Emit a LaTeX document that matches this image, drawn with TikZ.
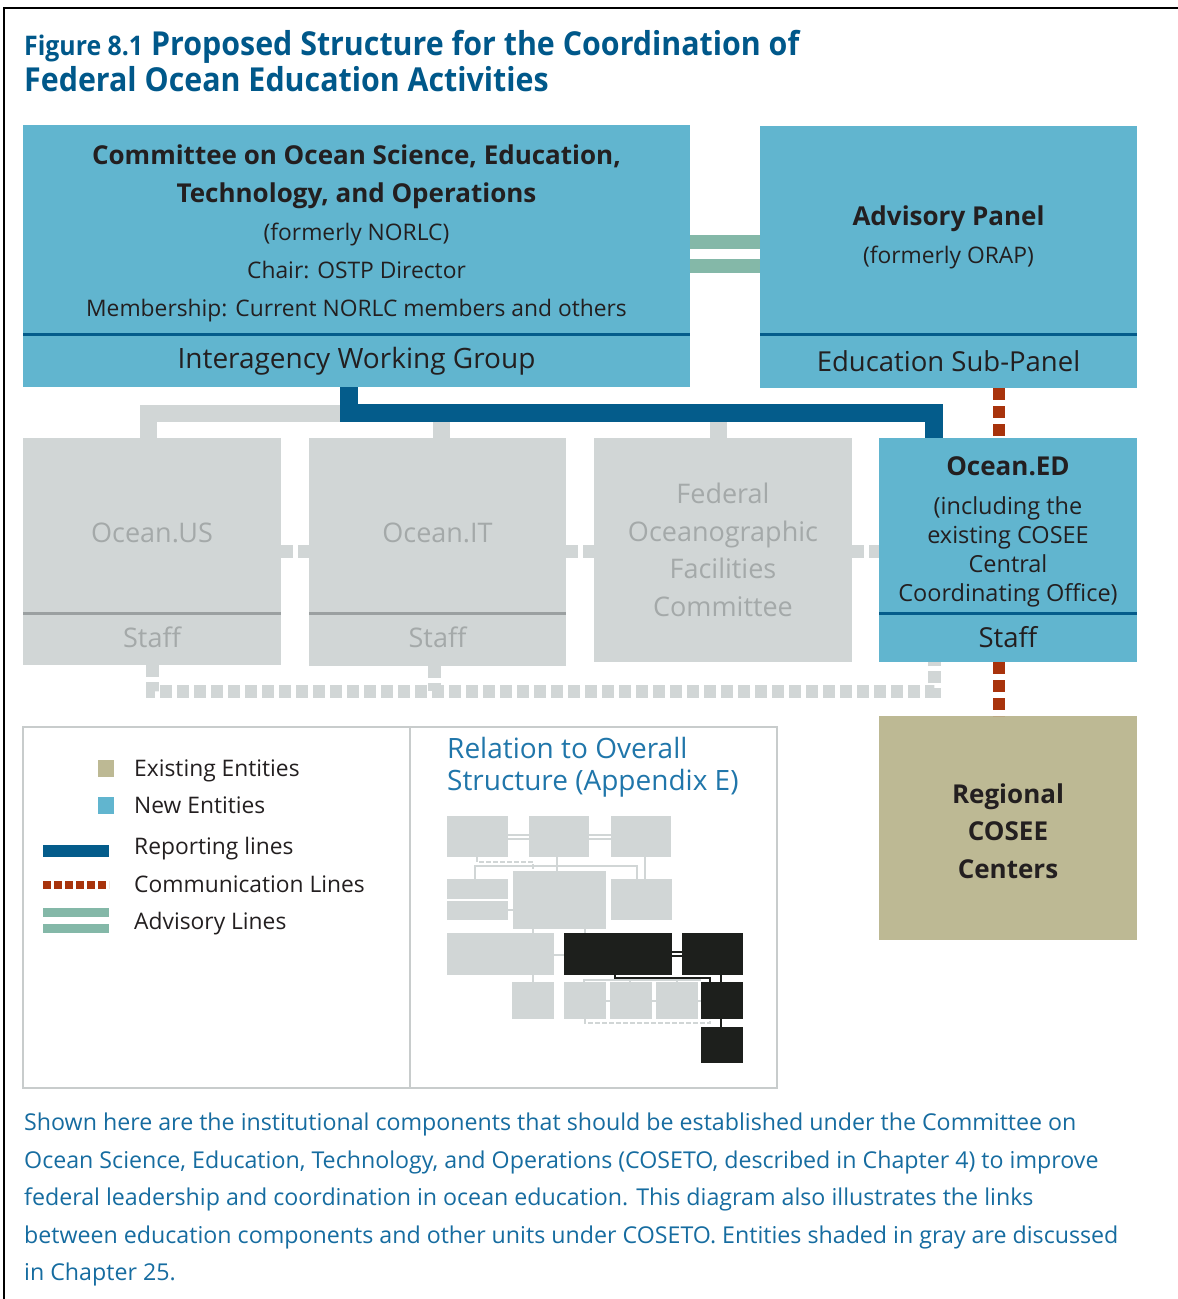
\documentclass[tikz,border=0pt]{standalone}
\usepackage{fontspec}
\setmainfont{Open Sans}
\newfontfamily\titlefont[FakeStretch=0.92]{Open Sans}
\usetikzlibrary{positioning}

\definecolor{newblue}{RGB}{97,181,207}
\definecolor{repblue}{RGB}{4,92,139}
\definecolor{greyfill}{RGB}{209,214,214}
\definecolor{greyink}{RGB}{164,169,169}
\definecolor{greydiv}{RGB}{155,160,161}
\definecolor{khaki}{RGB}{189,185,148}
\definecolor{commred}{RGB}{168,51,12}
\definecolor{advgreen}{RGB}{132,184,168}
\definecolor{titleblue}{RGB}{0,88,138}
\definecolor{capblue}{RGB}{22,108,160}
\definecolor{relblue}{RGB}{32,118,170}
\definecolor{ink}{RGB}{35,31,32}
\definecolor{miniblack}{RGB}{29,31,28}
\definecolor{frame}{RGB}{200,204,204}

\tikzset{
  entitybox/.style={anchor=north west, inner sep=0pt, outer sep=0pt},
  newbox/.style={entitybox, fill=newblue},
  greybox/.style={entitybox, fill=greyfill},
  oldbox/.style={entitybox, fill=khaki},
  boxtext/.style={align=center, text=ink, inner sep=0pt, font=\fontsize{22.8}{38}\selectfont},
  greytext/.style={boxtext, text=greyink, font=\fontsize{27}{37.5}\selectfont},
  divider/.style={line width=3pt, draw=repblue},
  greydivider/.style={line width=3pt, draw=greydiv},
  repline/.style={draw=repblue, line width=18pt},
  greyline/.style={draw=greyfill, line width=17pt},
  greydash/.style={draw=greyfill, line width=13pt, dash pattern=on 12pt off 5pt},
  commline/.style={draw=commred, line width=12pt, dash pattern=on 12pt off 6pt},
  advline/.style={draw=advgreen, line width=14pt},
  legtext/.style={anchor=base west, inner sep=0pt, text=ink, font=\fontsize{22.8}{26}\selectfont},
  legframe/.style={entitybox, draw=frame, line width=2pt},
  minigrey/.style={fill=greyfill},
  miniblk/.style={fill=miniblack},
  minilink/.style={draw=greyfill, line width=2pt},
  miniblklink/.style={draw=miniblack, line width=2.5pt}
}

\begin{document}
\begin{tikzpicture}[x=1pt, y=-1pt]
\useasboundingbox (0,0) rectangle (1178,1299);
\draw[black, line width=2.5pt] (4,1299) -- (4,8) -- (1178,8);

% title
\node[anchor=base west, inner sep=0pt, text=titleblue] (title) at (24,55)
  {\titlefont\bfseries{\fontsize{27}{30}\selectfont Figure 8.1}\hspace{8pt}{\fontsize{33}{38}\selectfont Proposed Structure for the Coordination of}};
\node[anchor=base west, inner sep=0pt, text=titleblue] (title2) at (24,91)
  {\titlefont\bfseries\fontsize{33}{38}\selectfont Federal Ocean Education Activities};

% top row
\node[newbox, minimum width=667, minimum height=262] (cosot) at (23,125) {};
\draw[divider] (23,334) -- (690,334);
\node[boxtext] (cosotname) at (356.5,233)
  {{\bfseries\fontsize{26}{38}\selectfont Committee on Ocean Science, Education,}\\
   {\bfseries\fontsize{26}{38}\selectfont Technology, and Operations}\\
   (formerly NORLC)\\ Chair: OSTP Director\\ Membership: Current NORLC members and others};
\node[boxtext, font=\fontsize{28}{30}\selectfont] (iwg) at (356.5,361) {Interagency Working Group};

\node[newbox, minimum width=377, minimum height=262] (adv) at (760,126) {};
\draw[divider] (760,334) -- (1137,334);
\node[boxtext] (advname) at (948.5,237)
  {{\bfseries\fontsize{26}{38}\selectfont Advisory Panel}\\ (formerly ORAP)};
\node[boxtext, font=\fontsize{27.5}{30}\selectfont] (esp) at (948.5,361) {Education Sub-Panel};

\draw[advline] (cosot.east |- 0,242) -- (adv.west |- 0,242);
\draw[advline] (cosot.east |- 0,266) -- (adv.west |- 0,266);

% second row
\node[greybox, minimum width=258, minimum height=227] (ocus) at (23,438) {};
\draw[greydivider] (23,613) -- (281,613);
\node[greytext] (ocusname) at (152,533) {Ocean.US};
\node[greytext] (ocusstaff) at (152,637) {Staff};

\node[greybox, minimum width=257, minimum height=228] (ocit) at (309,438) {};
\draw[greydivider] (309,613) -- (566,613);
\node[greytext] (ocitname) at (437.5,533) {Ocean.IT};
\node[greytext] (ocitstaff) at (437.5,637) {Staff};

\node[greybox, minimum width=258, minimum height=224] (fofc) at (594,438) {};
\node[greytext] (fofcname) at (723,550) {Federal\\ Oceanographic\\ Facilities\\ Committee};

\node[newbox, minimum width=258, minimum height=224] (oced) at (879,438) {};
\draw[divider] (879,613) -- (1137,613);
\node[boxtext, font=\fontsize{23.5}{29}\selectfont] (ocedname) at (1008,532)
  {{\bfseries\fontsize{26}{29}\selectfont Ocean.ED}\\[10pt]
   (including the\\ existing COSEE\\ Central\\ Coordinating Office)};
\node[boxtext, font=\fontsize{27.5}{30}\selectfont] (ocedstaff) at (1008,637) {Staff};

\node[oldbox, minimum width=258, minimum height=224] (cosee) at (879,716) {};
\node[boxtext, font=\bfseries\fontsize{26}{37.5}\selectfont] (coseename) at (1008,831)
  {Regional\\ COSEE\\ Centers};

% connectors
\draw[greyline] (ocus.north -| 148.5,0) |- (348.5,413);
\draw[greyline] (ocit.north -| 441.5,0) -- (441.5,413);
\draw[greyline] (fofc.north -| 718.5,0) -- (718.5,413);
\draw[repline] (cosot.south -| 348.5,0) |- (934,413) -- (oced.north -| 934,0);

\draw[greydash] (ocus.east |- 0,551.5) -- (ocit.west |- 0,551.5);
\draw[greydash] (ocit.east |- 0,551.5) -- (fofc.west |- 0,551.5);
\draw[greydash] (fofc.east |- 0,551.5) -- (oced.west |- 0,551.5);
\draw[greydash] (ocus.south -| 152,0) |- (934,691) -- (oced.south -| 934,0);
\draw[greydash] (ocit.south -| 434.5,0) -- (434.5,691);

\draw[commline] (adv.south -| 999,0) -- (oced.north -| 999,0);
\draw[commline] (oced.south -| 999,0) -- (cosee.north -| 999,0);

% legend
\node[legframe, minimum width=387, minimum height=361] (legend) at (23,727) {};
\node[legframe, minimum width=367, minimum height=361] (overall) at (410,727) {};

\fill[khaki] (98,760) rectangle (114,777);
\node[legtext] (legexist) at (134,776) {Existing Entities};
\fill[newblue] (98,797) rectangle (114,814);
\node[legtext] (legnew) at (134,813) {New Entities};
\draw[repblue, line width=12pt] (43,851) -- (109,851);
\node[legtext] (legrep) at (134,854) {Reporting lines};
\draw[commred, line width=8pt, dash pattern=on 8pt off 3pt] (43,884.5) -- (109,884.5);
\node[legtext] (legcomm) at (134,892) {Communication Lines};
\draw[advgreen, line width=9pt] (43,912.5) -- (109,912.5);
\draw[advgreen, line width=9pt] (43,928.5) -- (109,928.5);
\node[legtext] (legadv) at (134,929) {Advisory Lines};

\node[anchor=north west, inner sep=0pt, align=left, text=relblue,
  font=\fontsize{28}{32}\selectfont] (reltitle) at (447,737)
  {Relation to Overall\\ Structure (Appendix E)};

% overall structure thumbnail
\draw[minilink] (508,835) -- (529,835) (508,839) -- (529,839);
\draw[minilink] (589,835) -- (611,835) (589,839) -- (611,839);
\draw[minilink] (557,857) -- (557,871);
\draw[minilink] (475,879) |- (637,866) -- (637,879);
\draw[minilink] (645,857) -- (645,879);
\draw[minilink, dash pattern=on 5pt off 2pt] (477,857) |- (533,862) -- (533,871);
\draw[minilink] (508,910) -- (513,910);
\draw[minilink] (533,929) -- (533,933) (585,929) -- (585,933);
\draw[minilink] (554,955) -- (564,955);
\draw[minilink] (584,982) |- (701,980) (630,980) -- (630,982) (677,980) -- (677,982);
\draw[minilink] (533,975) -- (533,982);
\draw[minilink] (606,1001) -- (610,1001) (652,1001) -- (656,1001) (698,1001) -- (701,1001);
\draw[minilink, dash pattern=on 5pt off 2pt] (585,1019) |- (710,1023) -- (710,1019);
\foreach \xa/\ya/\xb/\yb in {447/816/508/857, 529/816/589/857, 611/816/671/857,
    447/879/508/899, 447/901/508/920, 513/871/606/929, 611/879/672/920,
    447/933/554/975, 512/982/554/1019, 564/982/606/1019, 610/982/652/1019,
    656/982/698/1019}
  \fill[minigrey] (\xa,\ya) rectangle (\xb,\yb);
\draw[miniblklink] (672,952) -- (682,952) (672,956) -- (682,956);
\draw[miniblklink] (615,975) |- (710,978) -- (710,982);
\draw[miniblklink] (721,975) -- (721,982) (721,1019) -- (721,1027);
\foreach \xa/\ya/\xb/\yb in {564/933/672/975, 682/933/743/975,
    701/982/743/1019, 701/1027/743/1063}
  \fill[miniblk] (\xa,\ya) rectangle (\xb,\yb);

% caption
\node[anchor=north west, inner sep=0pt, align=left, text=capblue,
  font=\fontsize{23.2}{37.5}\selectfont] (caption) at (24,1113)
  {Shown here are the institutional components that should be established under the Committee on\\
   Ocean Science, Education, Technology, and Operations (COSETO, described in Chapter 4) to improve\\
   federal leadership and coordination in ocean education. This diagram also illustrates the links\\
   between education components and other units under COSETO. Entities shaded in gray are discussed\\
   in Chapter 25.};
\end{tikzpicture}
\end{document}
